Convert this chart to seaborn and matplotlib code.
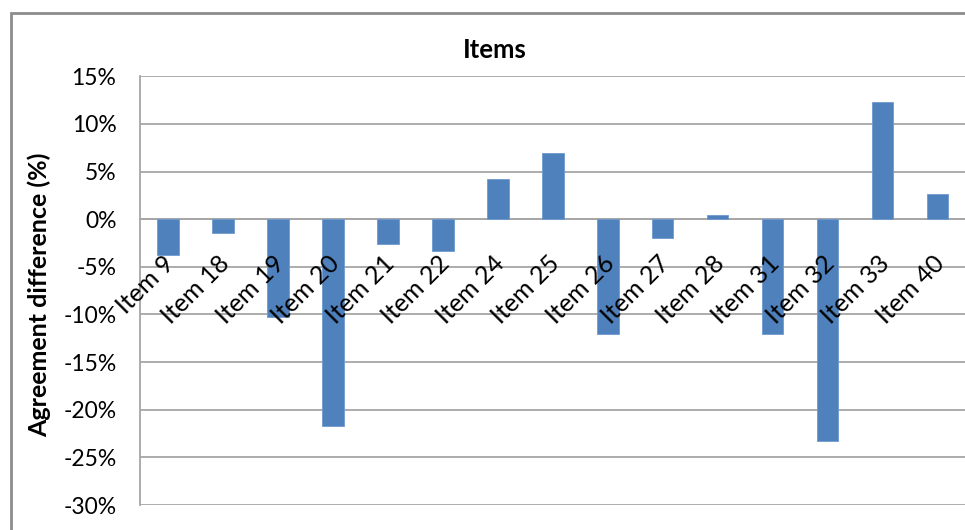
import matplotlib
matplotlib.use("Agg")
import matplotlib.pyplot as plt
import matplotlib.transforms as mtransforms
import seaborn as sns
import pandas as pd
from matplotlib.patches import Rectangle
from matplotlib.ticker import FuncFormatter, MultipleLocator

items = ["Item 9", "Item 18", "Item 19", "Item 20", "Item 21", "Item 22", "Item 24",
         "Item 25", "Item 26", "Item 27", "Item 28", "Item 31", "Item 32", "Item 33", "Item 40"]
diff_pct = [-3.8, -1.5, -10.3, -21.7, -2.6, -3.3, 4.2, 6.9, -12.0, -2.0, 0.4, -12.1, -23.3, 12.3, 2.6]

title = "Items"
ylabel = "Agreement difference (%)"

sns.set_theme(style="white")
plt.rcParams["font.family"] = ["Lato", "DejaVu Sans"]

df = pd.DataFrame({"item": items, "diff": diff_pct})

fig = plt.figure(figsize=(9.65, 5.30), dpi=100)
ax = fig.add_axes([140 / 965, 1 - 505 / 530, 1 - 140 / 965, (505 - 76.3) / 530])

grid_c = "#a6a6a6"
sns.barplot(data=df, x="item", y="diff", color="#4F81BD", width=0.4, saturation=1,
            edgecolor="#6f9ad0", linewidth=0.6, ax=ax, zorder=3)

ax.set_ylim(-30, 15)
ax.set_xlim(-0.5, 14.5)
ax.yaxis.set_major_locator(MultipleLocator(5))
ax.yaxis.set_major_formatter(FuncFormatter(lambda v, p: f"{v:.0f}%"))
ax.grid(axis="y", color=grid_c, linewidth=1.3)
ax.set_axisbelow(True)
ax.xaxis.set_zorder(6)

for s in ["top", "right"]:
    ax.spines[s].set_visible(False)
ax.spines["left"].set_color(grid_c)
ax.spines["left"].set_linewidth(1.3)
ax.spines["bottom"].set_position(("data", 0))
ax.spines["bottom"].set_color(grid_c)
ax.spines["bottom"].set_linewidth(1.3)

ax.tick_params(axis="y", length=0, pad=17, labelsize=16.5, labelcolor="#000000")
ax.tick_params(axis="x", length=0, pad=17, labelsize=18, labelcolor="#000000")
offset = mtransforms.ScaledTranslation(-5 / 100, -9 / 100, fig.dpi_scale_trans)
for lab in ax.get_xticklabels():
    lab.set_rotation(45)
    lab.set_ha("right")
    lab.set_va("top")
    lab.set_rotation_mode("anchor")
    lab.set_transform(lab.get_transform() + offset)

ax.set_xlabel("")
ax.set_ylabel("")
fig.text(39 / 965, 1 - 295 / 530, ylabel, rotation=90, ha="center", va="center",
         fontsize=18, fontweight="bold", color="#000000")
fig.text(495 / 965, 1 - 50 / 530, title, ha="center", va="center",
         fontsize=18.5, fontweight="bold", color="#000000")

fig.patches.append(Rectangle((11 / 965, -0.1), 1.2, 1 - 13 / 530 + 0.1,
                             transform=fig.transFigure, fill=False,
                             edgecolor="#8c8c8c", linewidth=2, zorder=10))

fig.savefig("out.png", dpi=100)
